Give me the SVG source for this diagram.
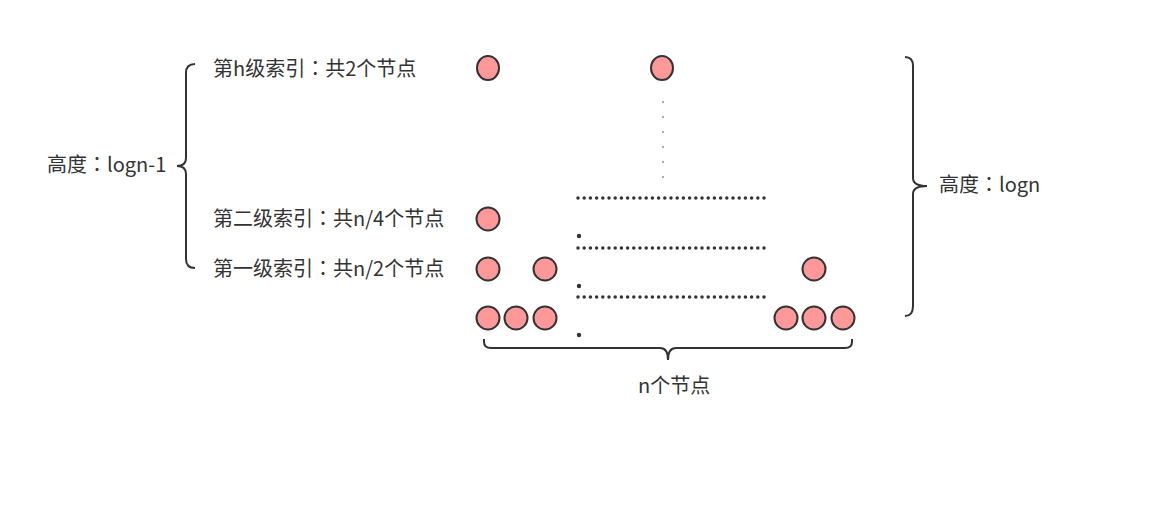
<svg xmlns="http://www.w3.org/2000/svg" width="1170" height="515" viewBox="0 0 1170 515">
<style>
.t{font-family:"Noto Sans CJK TC","Noto Sans CJK SC","Liberation Sans",sans-serif;font-size:20px;fill:#333}
.n{fill:#FF9999;stroke:#333;stroke-width:2}
.br{fill:none;stroke:#333;stroke-width:2}
.dl{stroke:#333;stroke-width:3.5;stroke-linecap:round;stroke-dasharray:0 6.2}
</style>
<rect width="1170" height="515" fill="#fff"/>
<g id="labels">
<text class="t" x="213" y="76">第h级索引：共2个节点</text>
<text class="t" x="213" y="226">第二级索引：共n/4个节点</text>
<text class="t" x="213" y="276">第一级索引：共n/2个节点</text>
<text class="t" x="47" y="172">高度：logn-1</text>
<text class="t" x="939" y="192">高度：logn</text>
<text class="t" x="638" y="393">n个节点</text>
</g>
<g id="nodes">
<ellipse id="h1" class="n" cx="488" cy="68" rx="11" ry="12"/>
<ellipse id="h2" class="n" cx="662" cy="68" rx="11" ry="12"/>
<circle id="l2a" class="n" cx="488" cy="219" r="11.5"/>
<circle id="l1a" class="n" cx="488" cy="269" r="11.5"/>
<circle id="l1b" class="n" cx="545" cy="269" r="11.5"/>
<circle id="l1c" class="n" cx="814" cy="269" r="11.5"/>
<circle id="l0a" class="n" cx="488" cy="318" r="11.5"/>
<circle id="l0b" class="n" cx="516" cy="318" r="11.5"/>
<circle id="l0c" class="n" cx="545" cy="318" r="11.5"/>
<circle id="l0d" class="n" cx="786" cy="318" r="11.5"/>
<circle id="l0e" class="n" cx="814" cy="318" r="11.5"/>
<circle id="l0f" class="n" cx="843" cy="318" r="11.5"/>
</g>
<g id="connectors">
<path class="br" d="M195,64 Q186,64 186,73 L186,158 Q186,166 177,166 Q186,166 186,174 L186,259 Q186,268 195,268"/>
<path class="br" d="M905,57 Q913,57 913,66 L913,178 Q913,186 927,186 Q913,186 913,194 L913,306 Q913,316 905,316"/>
<path class="br" d="M484,339 L484,342 Q484,348 491,348 L660,348 Q668,348 668,360 Q668,348 676,348 L845,348 Q852,348 852,342 L852,339"/>
<line class="dl" x1="578" y1="198" x2="764" y2="198"/>
<line class="dl" x1="578" y1="248" x2="764" y2="248"/>
<line class="dl" x1="578" y1="297" x2="764" y2="297"/>
<circle cx="579" cy="236" r="2.2" fill="#333"/>
<circle cx="579" cy="286" r="2.2" fill="#333"/>
<circle cx="579" cy="335" r="2.2" fill="#333"/>
<line stroke="#333" stroke-width="1.5" stroke-linecap="round" stroke-dasharray="0 15" x1="663" y1="102" x2="663" y2="178"/>
</g>
</svg>
